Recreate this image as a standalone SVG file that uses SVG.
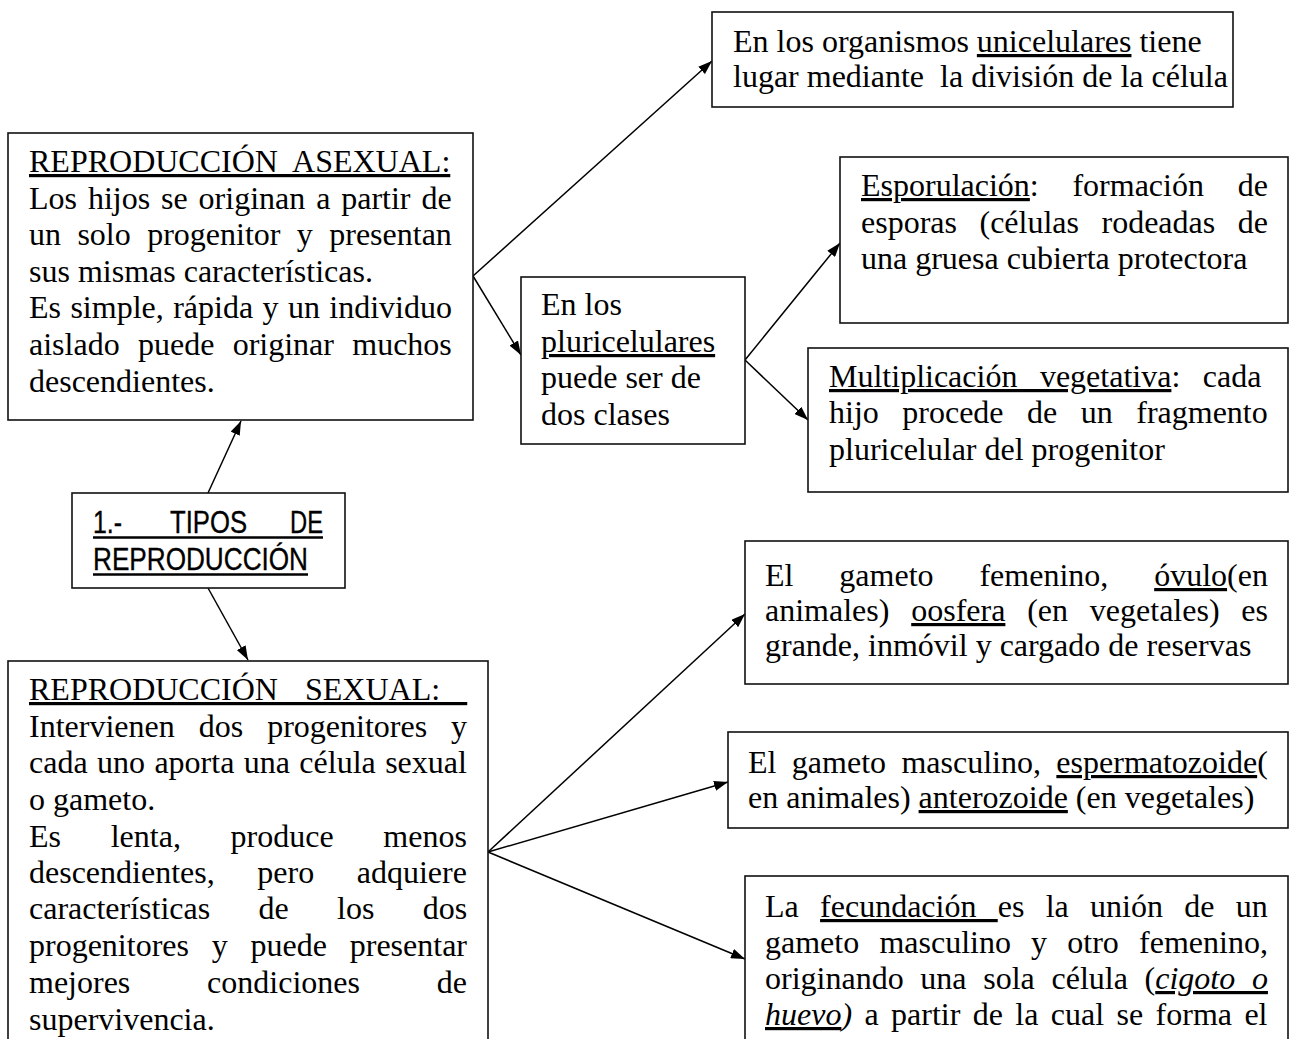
<svg xmlns="http://www.w3.org/2000/svg" width="1290" height="1039" viewBox="0 0 1290 1039">
<style>
.box{fill:#fff;stroke:#111;stroke-width:1.6}
.t{font-family:"Liberation Serif","Times New Roman",serif;font-size:32px;fill:#000}
.u{text-decoration:underline}
.i{font-style:italic}
.s{font-family:"Liberation Sans Narrow","Arial Narrow","Liberation Sans",Arial,sans-serif;font-size:31px;fill:#000;stroke:#000;stroke-width:0.35}
.ul{stroke:#000;stroke-width:2.4}
.c{stroke:#000;stroke-width:1.5;fill:none;marker-end:url(#ah)}
</style>
<defs>
<marker id="ah" viewBox="0 0 14 10" refX="14" refY="5" markerWidth="14" markerHeight="10" markerUnits="userSpaceOnUse" orient="auto">
<path d="M0,0 L14,5 L0,10 z" fill="#000"/>
</marker>
</defs>
<rect width="1290" height="1039" fill="#fff"/>

<g id="connectors">
<line class="c" x1="208" y1="493" x2="241" y2="421"/>
<line class="c" x1="208" y1="588" x2="248" y2="660"/>
<line class="c" x1="473" y1="276" x2="712" y2="61"/>
<line class="c" x1="473" y1="276" x2="521" y2="355"/>
<line class="c" x1="745" y1="360" x2="840" y2="243"/>
<line class="c" x1="745" y1="360" x2="808" y2="420"/>
<line class="c" x1="488" y1="852" x2="745" y2="614"/>
<line class="c" x1="488" y1="852" x2="728" y2="782"/>
<line class="c" x1="488" y1="852" x2="745" y2="959"/>
</g>

<g id="unicelulares">
<rect class="box" x="712" y="12" width="521" height="95"/>
<text class="t" x="733" y="52">En los organismos <tspan class="u">unicelulares</tspan> tiene</text>
<text class="t" x="733" y="87" xml:space="preserve">lugar mediante  la división de la célula</text>
</g>

<g id="asexual">
<rect class="box" x="8" y="133" width="465" height="287"/>
<text class="t u" x="29" y="172" style="word-spacing:7.9px">REPRODUCCIÓN ASEXUAL:</text>
<text class="t" x="29" y="209" style="word-spacing:2.9px">Los hijos se originan a partir de</text>
<text class="t" x="29" y="245" style="word-spacing:8.4px">un solo progenitor y presentan</text>
<text class="t" x="29" y="282">sus mismas características.</text>
<text class="t" x="29" y="318" style="word-spacing:1.4px">Es simple, rápida y un individuo</text>
<text class="t" x="29" y="355" style="word-spacing:10.3px">aislado puede originar muchos</text>
<text class="t" x="29" y="392">descendientes.</text>
</g>

<g id="pluricelulares">
<rect class="box" x="521" y="277" width="224" height="167"/>
<text class="t" x="541" y="315">En los</text>
<text class="t u" x="541" y="352">pluricelulares</text>
<text class="t" x="541" y="388">puede ser de</text>
<text class="t" x="541" y="425">dos clases</text>
</g>

<g id="esporulacion">
<rect class="box" x="840" y="157" width="448" height="166"/>
<text class="t" x="861" y="196" style="word-spacing:25.7px"><tspan class="u">Esporulación</tspan>: formación de</text>
<text class="t" x="861" y="233" style="word-spacing:14.5px">esporas (células rodeadas de</text>
<text class="t" x="861" y="269">una gruesa cubierta protectora</text>
</g>

<g id="multiplicacion">
<rect class="box" x="808" y="348" width="480" height="144"/>
<text class="t" x="829" y="387" style="word-spacing:14.5px"><tspan class="u">Multiplicación vegetativa</tspan>: cada</text>
<text class="t" x="829" y="423" style="word-spacing:15.5px">hijo procede de un fragmento</text>
<text class="t" x="829" y="460">pluricelular del progenitor</text>
</g>

<g id="tipos">
<rect class="box" x="72" y="493" width="273" height="95"/>
<text class="s" x="93" y="533" textLength="29" lengthAdjust="spacingAndGlyphs">1.-</text>
<text class="s" x="170" y="533" textLength="77" lengthAdjust="spacingAndGlyphs">TIPOS</text>
<text class="s" x="290" y="533" textLength="33" lengthAdjust="spacingAndGlyphs">DE</text>
<line class="ul" x1="93" y1="537.5" x2="323" y2="537.5"/>
<text class="s" x="93" y="570" textLength="215" lengthAdjust="spacingAndGlyphs">REPRODUCCIÓN</text>
<line class="ul" x1="93" y1="574.5" x2="308" y2="574.5"/>
</g>

<g id="sexual">
<rect class="box" x="8" y="661" width="480" height="390"/>
<text class="t u" x="29" y="700" xml:space="preserve" style="word-spacing:19.1px">REPRODUCCIÓN SEXUAL: </text>
<text class="t" x="29" y="737" style="word-spacing:16px">Intervienen dos progenitores y</text>
<text class="t" x="29" y="773" style="word-spacing:1.4px">cada uno aporta una célula sexual</text>
<text class="t" x="29" y="810">o gameto.</text>
<text class="t" x="29" y="847" style="word-spacing:41.7px">Es lenta, produce menos</text>
<text class="t" x="29" y="883" style="word-spacing:34.6px">descendientes, pero adquiere</text>
<text class="t" x="29" y="919" style="word-spacing:40.3px">características de los dos</text>
<text class="t" x="29" y="956" style="word-spacing:14.8px">progenitores y puede presentar</text>
<text class="t" x="29" y="993" style="word-spacing:68.8px">mejores condiciones de</text>
<text class="t" x="29" y="1030">supervivencia.</text>
</g>

<g id="femenino">
<rect class="box" x="745" y="541" width="543" height="143"/>
<text class="t" x="765" y="586" style="word-spacing:37.9px">El gameto femenino, <tspan class="u">óvulo</tspan>(en</text>
<text class="t" x="765" y="621" style="word-spacing:13.8px">animales) <tspan class="u">oosfera</tspan> (en vegetales) es</text>
<text class="t" x="765" y="656">grande, inmóvil y cargado de reservas</text>
</g>

<g id="masculino">
<rect class="box" x="728" y="732" width="560" height="96"/>
<text class="t" x="748" y="773" style="word-spacing:7.4px">El gameto masculino, <tspan class="u">espermatozoide</tspan>(</text>
<text class="t" x="748" y="808">en animales) <tspan class="u">anterozoide</tspan> (en vegetales)</text>
</g>

<g id="fecundacion">
<rect class="box" x="745" y="876" width="543" height="175"/>
<text class="t" x="765" y="917" style="word-spacing:13.3px">La <tspan class="u">fecundación </tspan>es la unión de un</text>
<text class="t" x="765" y="953" style="word-spacing:12.2px">gameto masculino y otro femenino,</text>
<text class="t" x="765" y="989" style="word-spacing:8.7px">originando una sola célula (<tspan class="u i">cigoto o</tspan></text>
<text class="t" x="765" y="1025" style="word-spacing:4.4px"><tspan class="u i">huevo</tspan><tspan class="i">)</tspan> a partir de la cual se forma el</text>
</g>
</svg>
